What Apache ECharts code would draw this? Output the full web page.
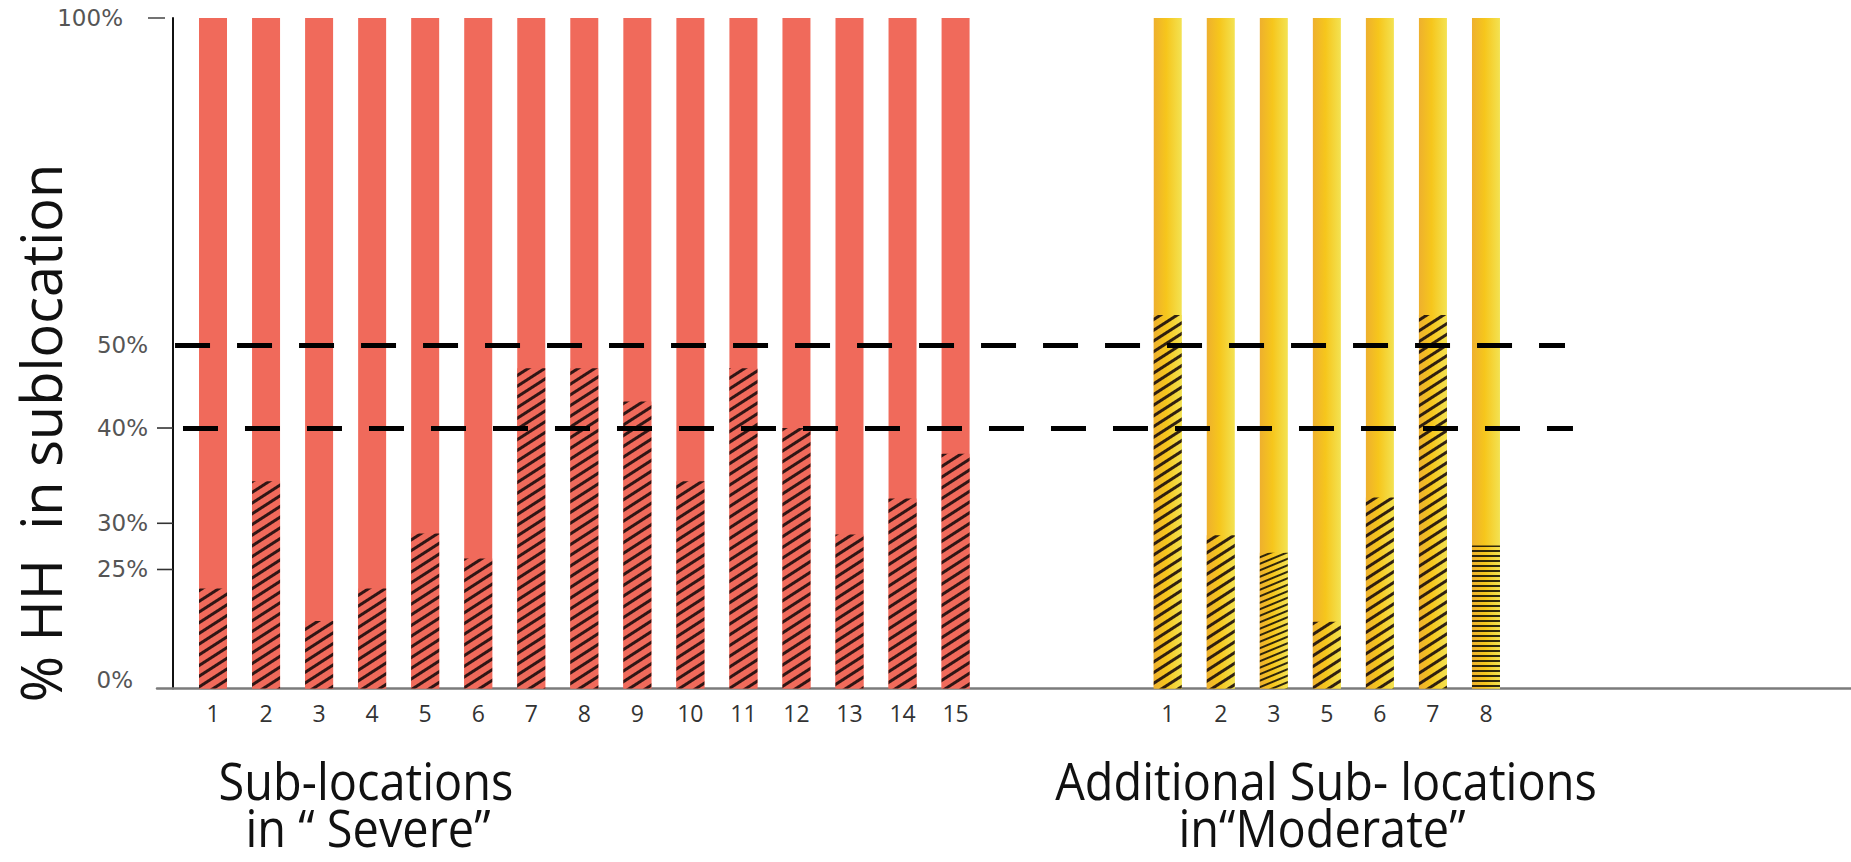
<!DOCTYPE html>
<html>
<head>
<meta charset="utf-8">
<script src="https://cdn.jsdelivr.net/npm/echarts@6/dist/echarts.min.js"></script>
<style>
html,body{margin:0;padding:0;background:#ffffff;}
#chart{width:1851px;height:862px;}
</style>
</head>
<body>
<div id="chart"></div>
<script>
// ---------------- data ----------------
const severeLabels   = ['1','2','3','4','5','6','7','8','9','10','11','12','13','14','15'];
const severeValues   = [21.0, 34.4, 14.2, 21.0, 28.9, 26.2, 47.2, 47.2, 43.2, 34.4, 47.2, 40.0, 28.8, 32.6, 37.3];
const moderateLabels = ['1','2','3','5','6','7','8'];
const moderateValues = [54.6, 28.7, 26.8, 14.0, 32.7, 54.6, 27.6];
const fullShare      = 100;            // every bar spans 100 % of HH
const yTickValues    = [0, 25, 30, 40, 50, 100];
const yMinorTicks    = [25, 30, 40];
const thresholds     = [50, 40];
const yAxisTitle     = '% HH  in sublocation';
const severeTitle    = ['Sub-locations', 'in \u201C Severe\u201D'];
const moderateTitle  = ['Additional Sub- locations', 'in\u201CModerate\u201D'];

// ---------------- layout / scale (the drawn axis is unevenly spaced) ----------------
const axisStops   = [0, 17.75, 24.64, 38.85, 51.23, 100]; // share of axis height for each yTickValue
const gapSlots    = 3;
const xMin = -1.056, xMax = 30.882;
const dashFrom = [-0.716, -0.566];
const dashTo   = [25.49, 25.64];
const axisInset = 16;      // y axis line sits 16px inside the grid edge; minor ticks span that gap

function toAxis(v) {
  for (let i = 0; i < yTickValues.length - 1; i++) {
    const a = yTickValues[i], b = yTickValues[i + 1];
    if (v >= a && v <= b) {
      return axisStops[i] + (v - a) / (b - a) * (axisStops[i + 1] - axisStops[i]);
    }
  }
  return v;
}
function labelOfAxis(val) {
  for (let i = 0; i < axisStops.length; i++) {
    if (Math.abs(axisStops[i] - val) < 1e-6) return yTickValues[i];
  }
  return null;
}

const severeSlots   = severeLabels.map((_, i) => i);
const moderateSlots = moderateLabels.map((_, i) => severeLabels.length + gapSlots + i);
const slotLabel = {};
severeSlots.forEach((s, i) => slotLabel[s] = severeLabels[i]);
moderateSlots.forEach((s, i) => slotLabel[s] = moderateLabels[i]);

const RED = '#F06A5B';
const yellowFill = new echarts.graphic.LinearGradient(0, 0, 1, 0, [
  { offset: 0, color: '#EEB02E' },
  { offset: 0.45, color: '#F6C61C' },
  { offset: 1, color: '#F3E252' }
]);
const hatch = { symbol: 'rect', symbolSize: 1, dashArrayX: [1, 0], dashArrayY: [2.4, 5.6],
                rotation: -Math.PI / 5.5, color: 'rgba(25,12,12,0.9)' };
const hatchDense = { symbol: 'rect', symbolSize: 1, dashArrayX: [1, 0], dashArrayY: [2, 3.5],
                rotation: -Math.PI / 8, color: 'rgba(25,20,5,0.9)' };
const hatchFlat = { symbol: 'rect', symbolSize: 1, dashArrayX: [1, 0], dashArrayY: [1.8, 2.2],
                rotation: 0, color: 'rgba(25,20,5,0.9)' };

const barCommon = { type: 'bar', barWidth: 28, barGap: '-100%', silent: true, animation: false };

const labelFont = { fontSize: 23, color: '#555', fontFamily: 'DejaVu Sans' };

const chart = echarts.init(document.getElementById('chart'), null, { renderer: 'svg' });
chart.setOption({
  animation: false,
  backgroundColor: '#ffffff',
  grid: { left: 157, right: 0, top: 18, bottom: 173.5, outerBoundsMode: 'none' },
  xAxis: {
    type: 'value', min: xMin, max: xMax, position: 'bottom',
    axisLine: { show: true, onZero: false, lineStyle: { color: '#7b7b7b', width: 2.5 } },
    axisTick: { show: false },
    splitLine: { show: false },
    axisLabel: {
      customValues: severeSlots.concat(moderateSlots),
      formatter: v => slotLabel[Math.round(v)] || '',
      margin: 13, fontSize: 23, color: '#333', fontFamily: 'Open Sans'
    }
  },
  yAxis: [{
    type: 'value', min: 0, max: 100, position: 'left', offset: -axisInset,
    axisLine: { show: true, onZero: false, lineStyle: { color: '#111', width: 2 } },
    axisTick: { show: false },
    splitLine: { show: false },
    axisLabel: {
      customValues: yTickValues.map(toAxis),
      margin: 25, fontSize: 23, color: '#555', fontFamily: 'DejaVu Sans',
      formatter: val => {
        const t = labelOfAxis(val);
        if (t === 100) return '{far|100%}';
        if (t === 0) return '{zero|0%}';
        return '{n|' + t + '%}';
      },
      rich: {
        n: labelFont,
        far: Object.assign({ padding: [0, 25, 0, 0] }, labelFont),
        zero: Object.assign({ padding: [0, 15, 18, 0] }, labelFont)
      }
    }
  }, {
    type: 'value', min: 0, max: 100, position: 'left', offset: -8,
    axisLine: { show: false, onZero: false },
    axisTick: { show: true, inside: false, customValues: [toAxis(fullShare)], length: 17,
                lineStyle: { color: '#444', width: 1.5 } },
    axisLabel: { show: false },
    splitLine: { show: false }
  }],
  series: [
    Object.assign({}, barCommon, {
      name: 'Severe total', itemStyle: { color: RED },
      data: severeSlots.map(s => [s, toAxis(fullShare)])
    }),
    Object.assign({}, barCommon, {
      name: 'Moderate total', itemStyle: { color: yellowFill },
      data: moderateSlots.map(s => [s, toAxis(fullShare)])
    }),
    Object.assign({}, barCommon, {
      name: 'Severe share', itemStyle: { color: RED, decal: hatch },
      data: severeValues.map((v, i) => [severeSlots[i], toAxis(v)])
    }),
    Object.assign({}, barCommon, {
      name: 'Moderate share', itemStyle: { color: yellowFill, decal: hatch },
      data: moderateValues.map((v, i) => {
        const item = { value: [moderateSlots[i], toAxis(v)] };
        if (moderateLabels[i] === '3') item.itemStyle = { decal: hatchDense };
        if (moderateLabels[i] === '8') item.itemStyle = { decal: hatchFlat };
        return item;
      }),
      markLine: {
        silent: true, animation: false,
        symbol: ['none', 'none'],
        label: { show: false },
        lineStyle: { color: '#000', width: 5, type: [35, 27] },
        data: thresholds.map((t, i) => [
          { coord: [dashFrom[i], toAxis(t)] },
          { coord: [dashTo[i], toAxis(t)] }
        ])
      }
    }),
    {
      name: 'y minor ticks', type: 'custom', silent: true, animation: false, clip: false, z: 5,
      data: yMinorTicks.map(t => [0, toAxis(t)]),
      renderItem: (params, api) => {
        const y = api.coord([0, api.value(1)])[1];
        const x0 = params.coordSys.x;
        return {
          type: 'line',
          shape: { x1: x0, y1: y, x2: x0 + axisInset, y2: y },
          style: { stroke: '#333', lineWidth: 1.6 }
        };
      }
    }
  ],
  graphic: [
    { type: 'text', x: 40, y: 433, rotation: Math.PI / 2, silent: true,
      style: { text: yAxisTitle, fontSize: 56, fontFamily: 'Open Sans', fill: '#111',
               align: 'center', verticalAlign: 'middle' } },
    { type: 'text', x: 366, y: 805, scaleX: 0.92, silent: true,
      style: { text: severeTitle[0], fontSize: 51, lineHeight: 50, fontFamily: 'Open Sans', fill: '#111',
               align: 'center', verticalAlign: 'bottom' } },
    { type: 'text', x: 368, y: 852, scaleX: 0.92, silent: true,
      style: { text: severeTitle[1], fontSize: 51, lineHeight: 50, fontFamily: 'Open Sans', fill: '#111',
               align: 'center', verticalAlign: 'bottom' } },
    { type: 'text', x: 1326, y: 805, scaleX: 0.92, silent: true,
      style: { text: moderateTitle[0], fontSize: 51, lineHeight: 50, fontFamily: 'Open Sans', fill: '#111',
               align: 'center', verticalAlign: 'bottom' } },
    { type: 'text', x: 1322, y: 852, scaleX: 0.92, silent: true,
      style: { text: moderateTitle[1], fontSize: 51, lineHeight: 50, fontFamily: 'Open Sans', fill: '#111',
               align: 'center', verticalAlign: 'bottom' } }
  ]
});
</script>
</body>
</html>
